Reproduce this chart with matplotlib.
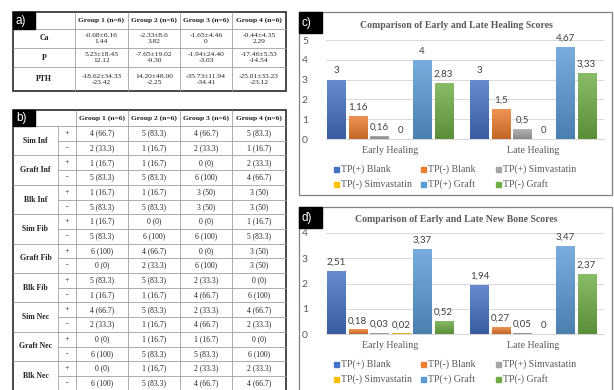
import numpy as np
import matplotlib.pyplot as plt
from matplotlib.patches import Rectangle
from matplotlib.colors import LinearSegmentedColormap, to_rgb

SERIF = 'Liberation Serif'
SANS = 'Lato'

groups = ['Group 1 (n=6)', 'Group 2 (n=6)', 'Group 3 (n=6)', 'Group 4 (n=6)']

# table a: mean±sd and second value per group
a_rows = ['Ca', 'P', 'PTH']
a_mean_sd = [['-0.68±6.16', '-2.33±8.6', '-1.65±4.46', '-0.44±4.35'],
             ['5.23±18.45', '-7.65±19.02', '-1.94±24.40', '-17.46±5.53'],
             ['-18.62±34.33', '14.20±48.00', '-35.73±11.94', '-25.01±33.23']]
a_second = [['1.44', '3.82', '0', '2.29'],
            ['12.12', '-9.30', '-3.03', '-14.54'],
            ['-23.42', '-2.25', '-34.41', '-23.12']]

# table b: counts (percent) for + and - findings
b_rows = ['Sim Inf', 'Graft Inf', 'Blk Inf', 'Sim Fib', 'Graft Fib',
          'Blk Fib', 'Sim Nec', 'Graft Nec', 'Blk Nec']
b_pos = [['4 (66.7)', '5 (83.3)', '4 (66.7)', '5 (83.3)'],
         ['1 (16.7)', '1 (16.7)', '0 (0)', '2 (33.3)'],
         ['1 (16.7)', '1 (16.7)', '3 (50)', '3 (50)'],
         ['1 (16.7)', '0 (0)', '0 (0)', '1 (16.7)'],
         ['6 (100)', '4 (66.7)', '0 (0)', '3 (50)'],
         ['5 (83.3)', '5 (83.3)', '2 (33.3)', '0 (0)'],
         ['4 (66.7)', '5 (83.3)', '2 (33.3)', '4 (66.7)'],
         ['0 (0)', '1 (16.7)', '1 (16.7)', '0 (0)'],
         ['0 (0)', '1 (16,7)', '2 (33.3)', '2 (33.3)']]
b_neg = [['2 (33.3)', '1 (16.7)', '2 (33.3)', '1 (16.7)'],
         ['5 (83.3)', '5 (83.3)', '6 (100)', '4 (66.7)'],
         ['5 (83.3)', '5 (83.3)', '3 (50)', '3 (50)'],
         ['5 (83.3)', '6 (100)', '6 (100)', '5 (83.3)'],
         ['0 (0)', '2 (33.3)', '6 (100)', '3 (50)'],
         ['1 (16.7)', '1 (16.7)', '4 (66.7)', '6 (100)'],
         ['2 (33.3)', '1 (16.7)', '4 (66.7)', '2 (33.3)'],
         ['6 (100)', '5 (83.3)', '5 (83.3)', '6 (100)'],
         ['6 (100)', '5 (83.3)', '4 (66.7)', '4 (66.7)']]

# bar charts
series = ['TP(+) Blank', 'TP(-) Blank', 'TP(+) Simvastatin',
          'TP(-) Simvastatin', 'TP(+) Graft', 'TP(-) Graft']
colors = ['#4472C4', '#ED7D31', '#A5A5A5', '#FFC000', '#5B9BD5', '#70AD47']
phases = ['Early Healing', 'Late Healing']
healing_early = [3, 1.16, 0.16, 0, 4, 2.83]
healing_late = [3, 1.5, 0.5, 0, 4.67, 3.33]
bone_early = [2.51, 0.18, 0.03, 0.02, 3.37, 0.52]
bone_late = [1.94, 0.27, 0.05, 0, 3.47, 2.37]

W, H = 614, 390
fig = plt.figure(figsize=(W / 100, H / 100), dpi=100)
bg = fig.add_axes([0, 0, 1, 1])
bg.set_xlim(0, W)
bg.set_ylim(H, 0)
bg.axis('off')

INNER = '#a0a0a0'
OUTER = '#3a3a3a'


def hline(x0, x1, y, c=INNER, lw=0.6):
    bg.plot([x0, x1], [y, y], color=c, lw=lw, solid_capstyle='butt')


def vline(x, y0, y1, c=INNER, lw=0.6):
    bg.plot([x, x], [y0, y1], color=c, lw=lw, solid_capstyle='butt')


def tag(x, y, w, h, s):
    bg.add_patch(Rectangle((x, y), w, h, color='black', zorder=5))
    bg.text(x + 3, y + h / 2 + 0.5, s, color='white', fontsize=8.5,
            family='Liberation Sans', va='center', ha='left', zorder=6)


# ---- table a ----
ax_cols = [13, 75, 128, 180, 232, 286]
ay = [12, 29, 48, 67, 91]
for y in ay[1:-1]:
    hline(ax_cols[0], ax_cols[-1], y)
for x in ax_cols[1:-1]:
    vline(x, ay[0], ay[-1])
bg.add_patch(Rectangle((ax_cols[0], ay[0]), ax_cols[-1] - ax_cols[0],
                       ay[-1] - ay[0], fill=False, ec=OUTER, lw=1.3))
tag(13, 12, 22, 17, 'a)')
for j, g in enumerate(groups):
    cx = (ax_cols[j + 1] + ax_cols[j + 2]) / 2
    bg.text(cx, (ay[0] + ay[1]) / 2, g, family=SERIF, weight='bold',
            fontsize=5.4, ha='center', va='center', color='#222222')
for i, r in enumerate(a_rows):
    cy = (ay[i + 1] + ay[i + 2]) / 2
    bg.text((ax_cols[0] + ax_cols[1]) / 2, cy, r, family=SERIF, weight='bold',
            fontsize=5.6, ha='center', va='center', color='#222222')
    for j in range(4):
        cx = (ax_cols[j + 1] + ax_cols[j + 2]) / 2
        bg.text(cx, cy, a_mean_sd[i][j] + '\n' + a_second[i][j], family=SERIF,
                fontsize=5.4, ha='center', va='center', color='#222222',
                linespacing=1.25)

# ---- table b ----
bx = [13, 58, 76, 128, 180, 232, 286]
b_top, b_head = 110, 126
rh = 14.7
n_sub = 2 * len(b_rows)
b_bot = b_head + n_sub * rh
hline(bx[0], bx[-1], b_head)
for k in range(1, n_sub):
    y = b_head + k * rh
    hline(bx[0] if k % 2 == 0 else bx[1], bx[-1], y)
vline(bx[1], b_head, b_bot)
for x in bx[2:-1]:
    vline(x, b_top, b_bot)
bg.add_patch(Rectangle((bx[0], b_top), bx[-1] - bx[0], b_bot - b_top,
                       fill=False, ec=OUTER, lw=1.3))
tag(13, 110, 22, 16, 'b)')
for j, g in enumerate(groups):
    cx = (bx[j + 2] + bx[j + 3]) / 2
    bg.text(cx, (b_top + b_head) / 2, g, family=SERIF, weight='bold',
            fontsize=5.4, ha='center', va='center', color='#222222')
for i, r in enumerate(b_rows):
    y0 = b_head + 2 * i * rh
    bg.text((bx[0] + bx[1]) / 2, y0 + rh, r, family=SERIF, weight='bold',
            fontsize=5.6, ha='center', va='center', color='#222222')
    for k, (sign, vals) in enumerate([('+', b_pos[i]), ('-', b_neg[i])]):
        cy = y0 + (k + 0.5) * rh
        bg.text((bx[1] + bx[2]) / 2, cy, sign, family=SERIF, fontsize=5.6,
                ha='center', va='center', color='#222222')
        for j in range(4):
            cx = (bx[j + 2] + bx[j + 3]) / 2
            bg.text(cx, cy, vals[j], family=SERIF, fontsize=5.5,
                    ha='center', va='center', color='#222222')


# ---- bar charts ----
def fmt(v):
    return f'{v:g}'.replace('.', ',')


def shade(ax, bars, col):
    base = np.array(to_rgb(col))
    dark = base * 0.82
    light = base + (1 - base) * 0.18
    cmap = LinearSegmentedColormap.from_list('bar', [dark, light])
    grad = np.linspace(0, 1, 64).reshape(-1, 1)
    for b in bars:
        h = b.get_height()
        if h <= 0:
            continue
        x0, w = b.get_x(), b.get_width()
        im = ax.imshow(grad, extent=[x0, x0 + w, 0, h], origin='lower',
                       cmap=cmap, aspect='auto', zorder=3, interpolation='bilinear')
        im.set_clip_path(b)


def bar_panel(px_top, px_zero, ymax, early, late, title, box_top, box_bot, lab):
    # panel frame and tag
    bg.add_patch(Rectangle((299, box_top), 313, box_bot - box_top, fill=False,
                           ec='#808080', lw=0.9))
    tag(299, box_top, 23, 21, lab)
    bg.text(456, box_top + 13, title, family=SERIF, weight='bold', fontsize=7,
            ha='center', va='center', color='#595959')

    left, right = 326, 604
    ax = fig.add_axes([left / W, 1 - px_zero / H, (right - left) / W,
                       (px_zero - px_top) / H], facecolor='none')
    x = np.arange(len(phases))
    pitch, width = 0.15, 0.126
    for i, col in enumerate(colors):
        vals = [early[i], late[i]]
        pos = x + (i - 2.5) * pitch
        bars = ax.bar(pos, vals, width, color=col, zorder=2)
        shade(ax, bars, col)
        for p, v in zip(pos, vals):
            ax.annotate(fmt(v), (p, v), xytext=(0, 4.5), textcoords='offset points',
                        ha='center', va='baseline', fontsize=7, family=SANS,
                        color='#404040')
    ax.set_xlim(-0.448, 1.497)
    ax.set_ylim(0, ymax)
    ax.set_yticks(range(ymax + 1))
    ax.grid(axis='y', color='#d9d9d9', lw=0.7, zorder=0)
    ax.set_axisbelow(True)
    for s in ['top', 'right', 'left']:
        ax.spines[s].set_visible(False)
    ax.spines['bottom'].set_color('#d9d9d9')
    ax.tick_params(axis='y', length=0, pad=13, labelsize=7.5, labelcolor='#595959')
    for t in ax.get_yticklabels():
        t.set_family(SANS)
    ax.set_xticks(x)
    ax.set_xticklabels(phases, family=SERIF, fontsize=7.2, color='#595959')
    ax.tick_params(axis='x', length=0, pad=5)

    # legend, three columns in rows
    col_x = [336, 423, 498]
    row_y = [px_zero + 30, px_zero + 45]
    for i, (name, col) in enumerate(zip(series, colors)):
        mx, my = col_x[i % 3], row_y[i // 3]
        bg.add_patch(Rectangle((mx - 2.5, my - 2.5), 5, 5, color=col))
        bg.text(mx + 5, my, name, family=SERIF, fontsize=7.1, ha='left',
                va='center', color='#595959')
    return ax


bar_panel(40, 139, 5, healing_early, healing_late,
          'Comparison of Early and Late Healing Scores', 12, 195, 'c)')
bar_panel(233, 334, 4, bone_early, bone_late,
          'Comparison of Early and Late New Bone Scores', 207, 400, 'd)')

fig.savefig('out.png', dpi=100)
